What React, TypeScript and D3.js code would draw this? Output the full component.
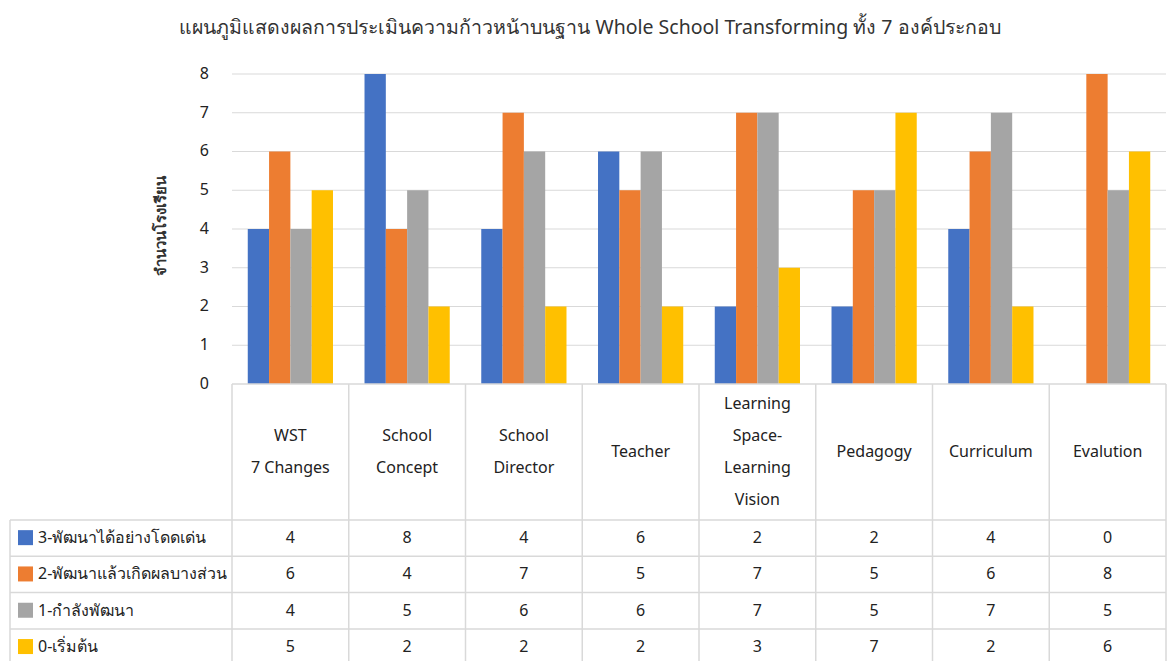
import { useEffect, useRef } from "react";
import * as d3 from "d3";

const categories = [
  ["WST", "7 Changes"],
  ["School", "Concept"],
  ["School", "Director"],
  ["Teacher"],
  ["Learning", "Space-", "Learning", "Vision"],
  ["Pedagogy"],
  ["Curriculum"],
  ["Evalution"],
];

const seriesNames = [
  "3-พัฒนาได้อย่างโดดเด่น",
  "2-พัฒนาแล้วเกิดผลบางส่วน",
  "1-กำลังพัฒนา",
  "0-เริ่มต้น",
];
const seriesColors = ["#4472C4", "#ED7D31", "#A5A5A5", "#FFC000"];

const excellent = [4, 8, 4, 6, 2, 2, 4, 0];
const partial = [6, 4, 7, 5, 7, 5, 6, 8];
const developing = [4, 5, 6, 6, 7, 5, 7, 5];
const starting = [5, 2, 2, 2, 3, 7, 2, 6];
const seriesValues = [excellent, partial, developing, starting];

const yTicks = [0, 1, 2, 3, 4, 5, 6, 7, 8];

const FONT = "'Noto Sans', 'Open Sans', sans-serif";

export default function App() {
  const svgRef = useRef<SVGSVGElement>(null);

  useEffect(() => {
    const svg = d3.select(svgRef.current);
    svg.selectAll("*").remove();

    const left = 232;
    const right = 1166;
    const top = 74;
    const bottom = 384;
    const headerBottom = 520;
    const rowH = 36.3;
    const tableLeft = 10;
    const gridColor = "#d9d9d9";

    const keys = categories.map((_, i) => String(i));
    const x0 = d3
      .scaleBand<string>()
      .domain(keys)
      .range([left, right])
      .paddingInner(0.27)
      .paddingOuter(0.135);
    const x1 = d3
      .scaleBand<number>()
      .domain(seriesNames.map((_, i) => i))
      .range([0, x0.bandwidth()]);
    const step = x0.step();

    const y = d3.scaleLinear().domain([0, 8]).range([bottom, top]);

    // title
    svg
      .append("text")
      .attr("x", 590)
      .attr("y", 34)
      .attr("text-anchor", "middle")
      .attr("font-size", 19.5)
      .attr("fill", "#333")
      .text(
        "แผนภูมิแสดงผลการประเมินความก้าวหน้าบนฐาน Whole School Transforming ทั้ง 7 องค์ประกอบ"
      );

    // gridlines
    svg
      .append("g")
      .selectAll("line")
      .data(yTicks.slice(1))
      .enter()
      .append("line")
      .attr("x1", left)
      .attr("x2", right)
      .attr("y1", (d) => y(d))
      .attr("y2", (d) => y(d))
      .attr("stroke", gridColor)
      .attr("stroke-width", 1);

    // y tick labels
    svg
      .append("g")
      .selectAll("text")
      .data(yTicks)
      .enter()
      .append("text")
      .attr("x", 209)
      .attr("y", (d) => y(d))
      .attr("dy", "0.3em")
      .attr("text-anchor", "end")
      .attr("font-size", 16)
      .attr("fill", "#222")
      .text((d) => d);

    // y axis title
    svg
      .append("text")
      .attr("transform", `translate(166,226) rotate(-90)`)
      .attr("text-anchor", "middle")
      .attr("font-size", 15)
      .attr("font-weight", "bold")
      .attr("fill", "#333")
      .text("จำนวนโรงเรียน");

    // bars
    const groups = svg
      .append("g")
      .selectAll("g")
      .data(keys)
      .enter()
      .append("g")
      .attr("transform", (d) => `translate(${x0(d)},0)`);

    groups
      .selectAll("rect")
      .data((_, ci) => seriesValues.map((vals, si) => ({ si, v: vals[ci] })))
      .enter()
      .append("rect")
      .attr("x", (d) => x1(d.si)!)
      .attr("width", x1.bandwidth())
      .attr("y", (d) => y(d.v))
      .attr("height", (d) => bottom - y(d.v))
      .attr("fill", (d) => seriesColors[d.si]);

    // table lines
    const table = svg.append("g").attr("stroke", gridColor).attr("stroke-width", 1.5);
    table
      .append("line")
      .attr("x1", left)
      .attr("x2", right)
      .attr("y1", bottom)
      .attr("y2", bottom);
    d3.range(categories.length + 1).forEach((i) => {
      table
        .append("line")
        .attr("x1", left + i * step)
        .attr("x2", left + i * step)
        .attr("y1", bottom)
        .attr("y2", 661);
    });
    table
      .append("line")
      .attr("x1", tableLeft)
      .attr("x2", tableLeft)
      .attr("y1", headerBottom)
      .attr("y2", 661);
    d3.range(seriesNames.length).forEach((i) => {
      table
        .append("line")
        .attr("x1", tableLeft)
        .attr("x2", right)
        .attr("y1", headerBottom + i * rowH)
        .attr("y2", headerBottom + i * rowH);
    });

    // header labels
    const headerMid = (bottom + headerBottom) / 2;
    const lineH = 32;
    categories.forEach((lines, ci) => {
      const cx = left + (ci + 0.5) * step;
      const t = svg
        .append("text")
        .attr("text-anchor", "middle")
        .attr("font-size", 16)
        .attr("fill", "#222");
      lines.forEach((ln, li) => {
        t.append("tspan")
          .attr("x", cx)
          .attr("y", headerMid + (li - (lines.length - 1) / 2) * lineH)
          .attr("dy", "0.3em")
          .text(ln);
      });
    });

    // rows
    seriesNames.forEach((name, si) => {
      const cy = headerBottom + (si + 0.5) * rowH;
      svg
        .append("rect")
        .attr("x", 18)
        .attr("y", cy - 8)
        .attr("width", 15)
        .attr("height", 15)
        .attr("fill", seriesColors[si]);
      svg
        .append("text")
        .attr("x", 38)
        .attr("y", cy)
        .attr("dy", "0.3em")
        .attr("font-size", 16)
        .attr("fill", "#222")
        .text(name);
      seriesValues[si].forEach((v, ci) => {
        svg
          .append("text")
          .attr("x", left + (ci + 0.5) * step)
          .attr("y", cy)
          .attr("dy", "0.3em")
          .attr("text-anchor", "middle")
          .attr("font-size", 16)
          .attr("fill", "#222")
          .text(v);
      });
    });
  }, []);

  return (
    <svg
      ref={svgRef}
      width={1168}
      height={661}
      style={{ position: "absolute", left: 0, top: 0, fontFamily: FONT, background: "#fff" }}
    />
  );
}
